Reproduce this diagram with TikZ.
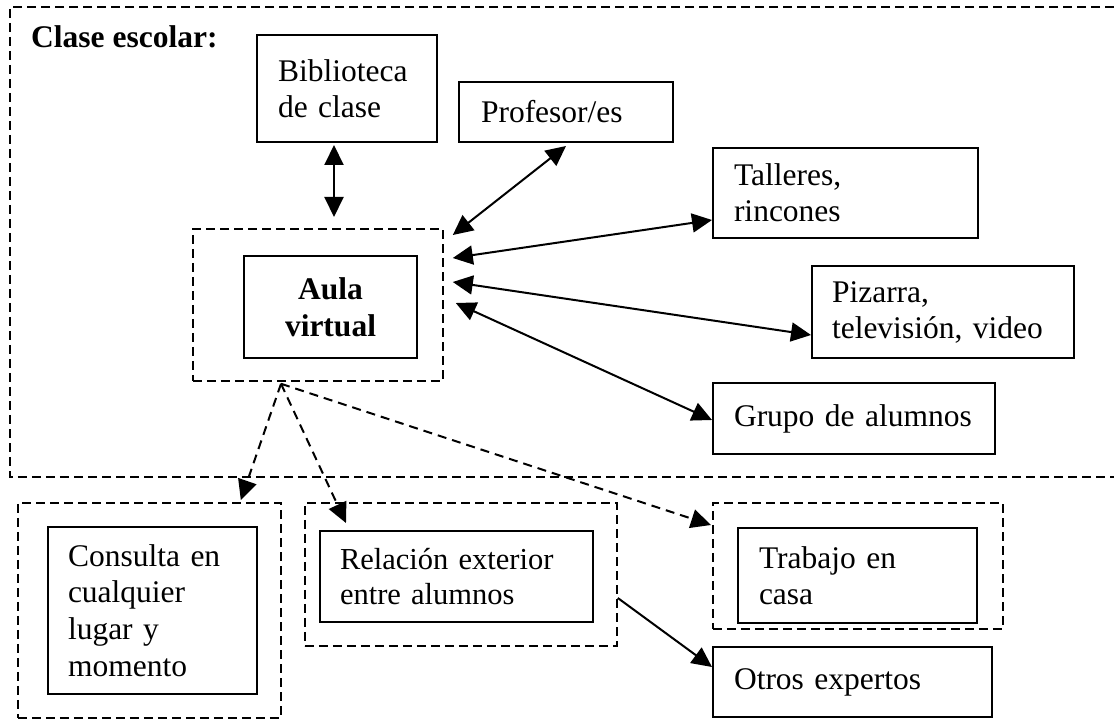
\documentclass[tikz,border=0pt]{standalone}
\usepackage{fontspec}
\setmainfont{Liberation Serif}
\usetikzlibrary{arrows.meta,calc}
\begin{document}
\begin{tikzpicture}[x=1pt,y=-1pt,
  txt/.style={font=\fontsize{31.5}{36}\selectfont},
  box/.style={draw, line width=2pt, anchor=north west, align=left, inner ysep=0pt, txt},
  dbox/.style={draw, line width=1.8pt, dash pattern=on 9pt off 5pt, anchor=north west, inner sep=0pt},
  tip/.style={Triangle[length=20pt,width=19pt]},
  arr/.style={line width=2pt, -{Triangle[length=20pt,width=19pt]}},
  darr/.style={arr, dash pattern=on 9pt off 6pt},
  dbl/.style={line width=2pt, {Triangle[length=20pt,width=19pt]}-{Triangle[length=20pt,width=19pt]}},
]
\useasboundingbox (0,0) rectangle (1114,719);
\fill[white] (0,0) rectangle (1114,719);

% outer "Clase escolar" frame (right side beyond the picture)
\draw[line width=1.8pt, dash pattern=on 9pt off 5pt] (1114,7) -- (10,7) -- (10,477) -- (1114,477);
\node[anchor=base west, inner sep=0pt, txt, font=\fontsize{31.5}{36}\selectfont\bfseries] (clase) at (31,48) {Clase escolar:};

% boxes inside the class
\node[box, text width=138pt, inner xsep=21pt, minimum height=107pt] (bib) at (256,34) {Biblioteca\\de clase};
\node[box, text width=170pt, inner xsep=22pt, minimum height=60pt] (prof) at (458,81) {Profesor/es};
\node[box, text width=223pt, inner xsep=21pt, minimum height=90pt] (tall) at (712,147) {Talleres,\\rincones};
\node[box, text width=222pt, inner xsep=20pt, minimum height=92pt] (piz) at (811,265) {Pizarra,\\televisión, video};
\node[box, text width=240pt, inner xsep=21pt, minimum height=71pt] (grupo) at (712,382) {Grupo de alumnos};

% aula virtual
\node[dbox, minimum width=250pt, minimum height=152pt] (aulaout) at (192,228) {};
\node[box, align=center, text width=153pt, inner xsep=10pt, minimum height=102pt, font=\fontsize{31.5}{37}\selectfont\bfseries] (aula) at (243,255) {Aula\\virtual};

% outside boxes
\node[dbox, minimum width=263pt, minimum height=215pt] (consout) at (17,502) {};
\node[box, text width=169pt, inner xsep=20pt, minimum height=167pt, font=\fontsize{31.5}{36.7}\selectfont] (cons) at (47,526) {Consulta en\\cualquier\\lugar y\\momento};
\node[dbox, minimum width=312pt, minimum height=143pt] (relout) at (304,502) {};
\node[box, text width=233pt, inner xsep=20pt, minimum height=91pt, font=\fontsize{30.5}{35}\selectfont] (rel) at (319,530) {Relación exterior\\entre alumnos};
\node[dbox, minimum width=290pt, minimum height=126pt] (trabout) at (712,502) {};
\node[box, text width=197pt, inner xsep=21pt, minimum height=95pt] (trab) at (737,527) {Trabajo en\\casa};
\node[box, text width=237pt, inner xsep=21pt, minimum height=70pt] (otros) at (712,646) {Otros expertos};

% solid two-headed connectors
\draw[dbl] ($(bib.south west)+(78,2)$) -- ($(aulaout.north west)+(142,-11)$);
\draw[dbl] ($(prof.south west)+(108,3)$) -- ($(aulaout.north east)+(9,7)$);
\draw[dbl] ($(tall.south west)+(0,-19)$) -- ($(aulaout.north east)+(9,30)$);
\draw[dbl] ($(piz.south west)+(0,-24)$) -- ($(aulaout.north east)+(9,54)$);
\draw[dbl] ($(grupo.north west)+(0,38)$) -- ($(aulaout.north east)+(12,75)$);

% dashed connectors out of the aula
\coordinate (apex) at ($(aulaout.south west)+(89,2)$);
\draw[darr] (apex) -- ($(consout.north east)+(-41,-2)$);
\draw[darr] (apex) -- ($(relout.north west)+(42,21)$);
\draw[darr] (apex) -- ($(trabout.north west)+(-1,23)$);

% relation to experts
\draw[arr] ($(relout.north east)+(0,96)$) -- ($(otros.north west)+(0,21)$);
\end{tikzpicture}
\end{document}
